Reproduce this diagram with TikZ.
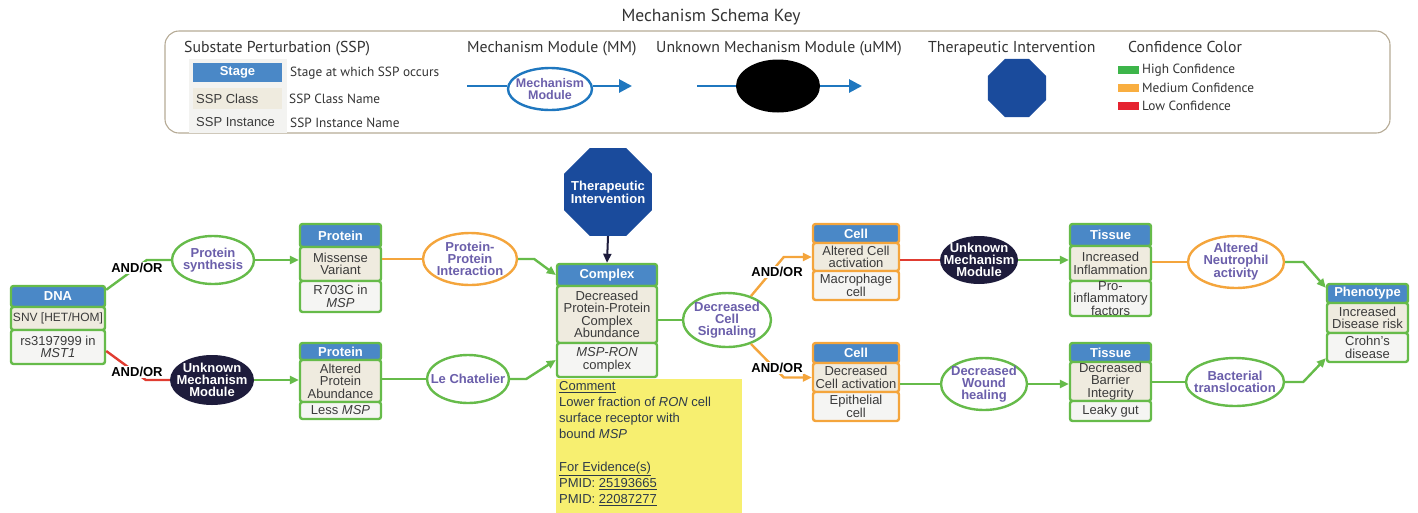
\documentclass[tikz,border=0pt]{standalone}
\usepackage{fontspec}
\setmainfont{Liberation Sans}
\newfontfamily\keyfont{PT Sans}
\usetikzlibrary{shapes.geometric,arrows.meta,calc}
\definecolor{hdrblue}{HTML}{4A88C7}
\definecolor{classfill}{HTML}{EFEBDF}
\definecolor{instfill}{HTML}{F5F5F3}
\definecolor{gcol}{HTML}{66BB4A}
\definecolor{ocol}{HTML}{F4A53C}
\definecolor{rcol}{HTML}{E03C31}
\definecolor{purp}{HTML}{6B5FAB}
\definecolor{navy}{HTML}{1E1C3C}
\definecolor{octblue}{HTML}{1A4B9C}
\definecolor{keyblue}{HTML}{1F77BF}
\definecolor{yel}{HTML}{F7EF70}
\definecolor{txt}{HTML}{3B3B3B}
\definecolor{cmttext}{HTML}{2D3A4A}
\definecolor{keyframe}{HTML}{B5AA95}
\definecolor{keytext}{HTML}{333333}
\definecolor{swg}{HTML}{3DB54A}
\definecolor{swo}{HTML}{F9AE40}
\definecolor{swr}{HTML}{E52330}
\definecolor{keybg}{HTML}{F3F3F1}
\newcommand\bx[7]{\node[#2, minimum width={(#5)-(#4)}, minimum height={(#7)-(#6)}] (#1) at ({((#4)+(#5))/2},{((#6)+(#7))/2}) {#3};}
\begin{document}
\begin{tikzpicture}[x=1pt,y=-1pt,
  sspbase/.style={rectangle, rounded corners=2.5pt, line width=2.4pt, inner sep=0pt, align=center, text=txt, font=\fontsize{13}{12.4}\selectfont},
  hdrbox/.style={sspbase, fill=hdrblue, text=white, font=\bfseries\fontsize{13}{13}\selectfont},
  clsbox/.style={sspbase, fill=classfill},
  instbox/.style={sspbase, fill=instfill},
  mmell/.style={ellipse, line width=2.4pt, fill=white, inner xsep=-16pt, inner ysep=-9pt, align=center, text=purp, font=\bfseries\fontsize{13}{11.7}\selectfont},
  ummell/.style={ellipse, fill=navy, text=white, inner xsep=-16pt, inner ysep=-9pt, align=center, font=\bfseries\fontsize{13}{11.7}\selectfont},
  octnode/.style={regular polygon, regular polygon sides=8, inner sep=-10pt, fill=octblue, text=white, align=center, font=\bfseries\fontsize{13}{13}\selectfont},
  conn/.style={line width=2.4pt},
  arrconn/.style={conn, -{Triangle[length=9pt,width=8pt]}},
  keyarr/.style={line width=2.8pt, -{Triangle[length=13pt,width=13pt]}},
  andorlbl/.style={fill=white, inner sep=1pt, font=\bfseries\fontsize{13}{13}\selectfont},
  ktxt/.style={font=\keyfont\fontsize{15.8}{16}\selectfont, text=keytext, inner sep=0},
  ktxtsm/.style={font=\keyfont\fontsize{13.3}{14}\selectfont, text=keytext, inner sep=0},
]
\path[use as bounding box] (0,0) rectangle (1418,512);

% ---------------- Key ----------------
\node[font=\keyfont\fontsize{17.5}{18}\selectfont, text=keytext] (ktitle) at (711,17) {Mechanism Schema Key};
\bx{kbox}{draw=keyframe, line width=1.1pt, rounded corners=14pt, inner sep=0}{}{165}{1390}{31}{133}
\node[ktxt, anchor=west] (kssp) at (184,49) {Substate Perturbation (SSP)};
\bx{ksspbg}{fill=keybg, inner sep=0}{}{189}{287}{59}{133}
\bx{kstage}{fill=hdrblue, inner sep=0, text=white, font=\bfseries\fontsize{13}{12}\selectfont}{Stage}{193}{282}{63}{82}
\bx{kcls}{fill=classfill, inner sep=0}{}{193}{282}{88}{109}
\node[anchor=west, inner sep=0, font=\fontsize{13}{12}\selectfont, text=txt] (kclst) at (196,99) {SSP Class};
\node[anchor=west, inner sep=0, font=\fontsize{13}{12}\selectfont, text=txt] (kinst) at (196,122) {SSP Instance};
\node[ktxtsm, anchor=west] (kstaged) at (290,73) {Stage at which SSP occurs};
\node[ktxtsm, anchor=west] (kclsd) at (289,99) {SSP Class Name};
\node[ktxtsm, anchor=west] (kinstd) at (290,123) {SSP Instance Name};

\node[ktxt, anchor=west] (kmmt) at (467,49) {Mechanism Module (MM)};
\coordinate (kmm1) at (467,86);
\coordinate (kmm2) at (632,86);
\node[mmell, draw=keyblue, minimum width=84, minimum height=42, font=\bfseries\fontsize{12.5}{11.5}\selectfont] (kmm) at (550,89) {Mechanism\\Module};
\draw[line width=2.8pt, keyblue] (kmm1) -- (kmm.west |- kmm1);
\draw[keyarr, keyblue] (kmm.east |- kmm2) -- (kmm2);

\node[ktxt, anchor=west] (kummt) at (656,49) {Unknown Mechanism Module (uMM)};
\coordinate (kumm1) at (697,86);
\coordinate (kumm2) at (862,86);
\node[ellipse, fill=black, minimum width=84, minimum height=53, inner sep=0] (kumm) at (778,86) {};
\draw[line width=2.8pt, keyblue] (kumm1) -- (kumm.west);
\draw[keyarr, keyblue] (kumm.east) -- (kumm2);

\node[ktxt, anchor=west] (ktit) at (928,48) {Therapeutic Intervention};
\node[octnode, minimum size=63] (koct) at (1017,88) {};

\node[ktxt, anchor=west] (kcct) at (1128,47) {Confidence Color};
\bx{ksg}{fill=swg, inner sep=0}{}{1118}{1139}{66}{74}
\bx{kso}{fill=swo, inner sep=0}{}{1118}{1139}{84}{92}
\bx{ksr}{fill=swr, inner sep=0}{}{1118}{1139}{102}{110}
\node[ktxtsm, anchor=west] (kslg) at (1142,70) {High Confidence};
\node[ktxtsm, anchor=west] (kslo) at (1142,88) {Medium Confidence};
\node[ktxtsm, anchor=west] (kslr) at (1142,106) {Low Confidence};

% ---------------- SSP boxes ----------------
\bx{dna-h}{hdrbox,draw=gcol}{DNA}{11}{105}{286}{307}
\bx{dna-c}{clsbox,draw=gcol,font=\fontsize{12}{12}\selectfont}{SNV [HET/HOM]}{11}{105}{307}{330}
\bx{dna-i}{instbox,draw=gcol}{rs3197999 in\\\textit{MST1}}{11}{105}{330}{364}

\bx{p1-h}{hdrbox,draw=gcol}{Protein}{300}{381}{224}{247}
\bx{p1-c}{clsbox,draw=gcol}{Missense\\Variant}{300}{381}{247}{281}
\bx{p1-i}{instbox,draw=gcol}{R703C in\\\textit{MSP}}{300}{381}{281}{312}

\bx{p2-h}{hdrbox,draw=gcol}{Protein}{300}{381}{343}{360}
\bx{p2-c}{clsbox,draw=gcol}{Altered\\Protein\\Abundance}{300}{381}{360}{402}
\bx{p2-i}{instbox,draw=gcol}{Less \textit{MSP}}{300}{381}{402}{419}

\bx{cx-h}{hdrbox,draw=gcol}{Complex}{557}{657}{264}{286}
\bx{cx-c}{clsbox,draw=gcol}{Decreased\\Protein-Protein\\Complex\\Abundance}{557}{657}{286}{343}
\bx{cx-i}{instbox,draw=gcol}{\textit{MSP-RON}\\complex}{557}{657}{343}{377}

\bx{c1-h}{hdrbox,draw=ocol}{Cell}{813}{899}{224}{243}
\bx{c1-c}{clsbox,draw=ocol}{Altered Cell\\activation}{813}{899}{243}{271}
\bx{c1-i}{instbox,draw=ocol}{Macrophage\\cell}{813}{899}{271}{300}

\bx{c2-h}{hdrbox,draw=ocol}{Cell}{813}{899}{343}{363}
\bx{c2-c}{clsbox,draw=ocol}{Decreased\\Cell activation}{813}{899}{363}{392}
\bx{c2-i}{instbox,draw=ocol}{Epithelial\\cell}{813}{899}{392}{421}

\bx{t1-h}{hdrbox,draw=gcol}{Tissue}{1070}{1151}{224}{246}
\bx{t1-c}{clsbox,draw=gcol}{Increased\\Inflammation}{1070}{1151}{246}{281}
\bx{t1-i}{instbox,draw=gcol,font=\fontsize{13}{11.6}\selectfont}{Pro-\\inflammatory\\factors}{1070}{1151}{281}{316}

\bx{t2-h}{hdrbox,draw=gcol}{Tissue}{1070}{1151}{343}{362}
\bx{t2-c}{clsbox,draw=gcol}{Decreased\\Barrier\\Integrity}{1070}{1151}{362}{401}
\bx{t2-i}{instbox,draw=gcol}{Leaky gut}{1070}{1151}{401}{421}

\bx{ph-h}{hdrbox,draw=gcol}{Phenotype}{1327}{1408}{284}{303}
\bx{ph-c}{clsbox,draw=gcol}{Increased\\Disease risk}{1327}{1408}{303}{333}
\bx{ph-i}{instbox,draw=gcol}{Crohn's\\disease}{1327}{1408}{333}{362}

% ---------------- Mechanism modules ----------------
\node[mmell, draw=gcol, minimum width=82, minimum height=48] (ps) at (213,260) {Protein\\synthesis};
\node[ummell, minimum width=84, minimum height=50] (umm1) at (212,380) {Unknown\\Mechanism\\Module};
\node[mmell, draw=ocol, minimum width=94, minimum height=52] (ppi) at (470,259) {Protein-\\Protein\\Interaction};
\node[mmell, draw=gcol, minimum width=82, minimum height=48] (lc) at (468,379) {Le Chatelier};
\node[mmell, draw=gcol, minimum width=88, minimum height=54] (dcs) at (727,320) {Decreased\\Cell\\Signaling};
\node[ummell, minimum width=78, minimum height=48] (umm2) at (979,260) {Unknown\\Mechanism\\Module};
\node[mmell, draw=gcol, minimum width=86, minimum height=52] (dwh) at (984,384) {Decreased\\Wound\\healing};
\node[mmell, draw=ocol, minimum width=96, minimum height=52] (ana) at (1236,262) {Altered\\Neutrophil\\activity};
\node[mmell, draw=gcol, minimum width=98, minimum height=48] (bt) at (1235,382) {Bacterial\\translocation};

\node[octnode, minimum size=95] (ti) at (608,192) {Therapeutic\\Intervention};

% comment
\bx{cmt}{fill=yel, inner sep=0}{}{556}{742}{379}{514}
\node[anchor=north west, align=left, inner sep=0, text=cmttext, font=\fontsize{13}{16.2}\selectfont] (cmttxt) at (559,381) {\underline{Comment}\\Lower fraction of \textit{RON} cell\\surface receptor with\\bound \textit{MSP}\\[16.2pt]\underline{For Evidence(s)}\\PMID: \underline{25193665}\\PMID: \underline{22087277}};

% ---------------- Connectors ----------------
\draw[conn,gcol] ($(dna-h.north east)+(0,5)$) -- ($(ps.west)+(-24,0)$) -- (ps.west);
\draw[conn,rcol] ($(dna-i.east)+(0,4)$) -- ($(umm1.west)+(-24,0)$) -- (umm1.west);
\draw[arrconn,gcol] (ps.east) -- (ps.east -| p1-c.west);
\draw[arrconn,gcol] (umm1.east) -- (umm1.east -| p2-c.west);
\draw[conn,ocol] (ppi.west -| p1-c.east) -- (ppi.west);
\draw[conn,gcol] (lc.west -| p2-c.east) -- (lc.west);
\draw[arrconn,gcol] (ppi.east) -- ++(16,0) -- (cx-h.west);
\draw[arrconn,gcol] (lc.east) -- ++(16,0) -- (cx-i.west);
\draw[arrconn,navy,line width=2pt] (ti.south) -- (cx-h.north);
\draw[conn,gcol] (dcs.west -| cx-c.east) -- (dcs.west);
\draw[arrconn,ocol] (dcs.45) -- ($(c1-c.west)+(-28,0)$) -- (c1-c.west);
\draw[arrconn,ocol] (dcs.-45) -- ($(c2-c.west)+(-28,0)$) -- (c2-c.west);
\draw[conn,rcol] (umm2.west -| c1-c.east) -- (umm2.west);
\draw[conn,gcol] (dwh.west -| c2-c.east) -- (dwh.west);
\draw[arrconn,gcol] (umm2.east) -- (umm2.east -| t1-c.west);
\draw[arrconn,gcol] (dwh.east) -- (dwh.east -| t2-c.west);
\draw[conn,ocol] (ana.west -| t1-c.east) -- (ana.west);
\draw[conn,gcol] (bt.west -| t2-c.east) -- (bt.west);
\draw[arrconn,gcol] (ana.east) -- ++(18,0) -- ($(ph-h.north west)+(0,5)$);
\draw[arrconn,gcol] (bt.east) -- ++(18,0) -- ($(ph-i.south west)+(0,-5)$);

\node[andorlbl] (ao1) at (137,268) {AND/OR};
\node[andorlbl] (ao2) at (137,372) {AND/OR};
\node[andorlbl] (ao3) at (777,272) {AND/OR};
\node[andorlbl] (ao4) at (777,368) {AND/OR};
\end{tikzpicture}
\end{document}
